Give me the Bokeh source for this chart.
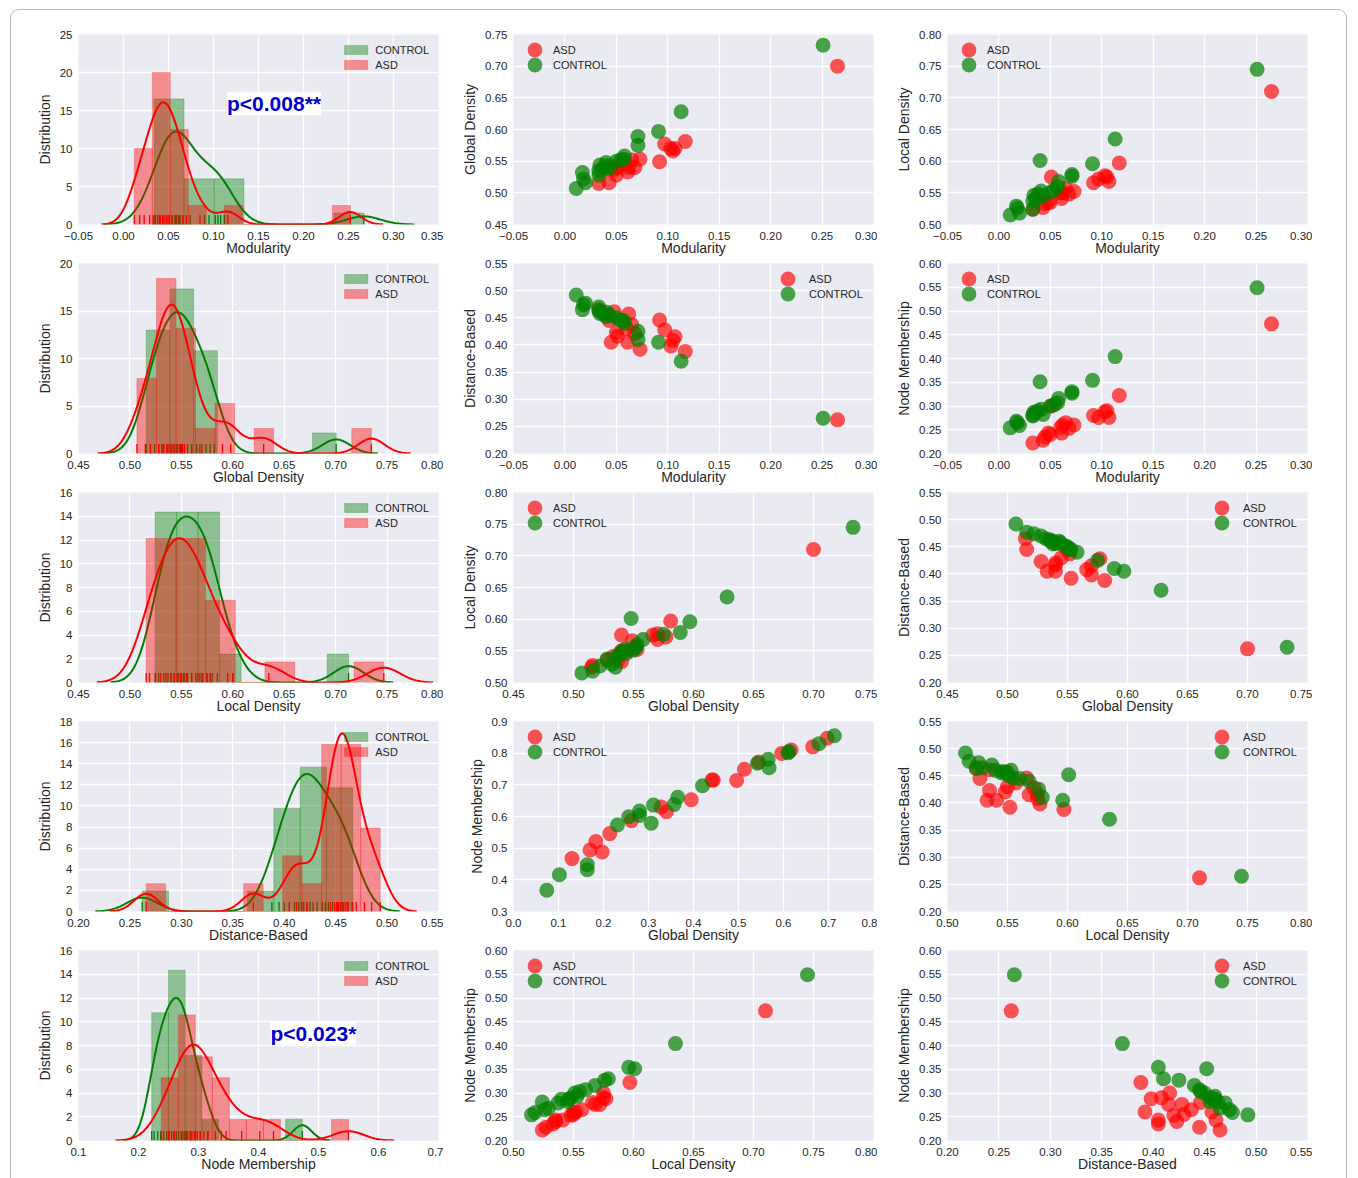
import numpy as np
from bokeh.plotting import figure
from bokeh.layouts import column, row
from bokeh.models import FixedTicker, Legend, LegendItem, Label, Div
from bokeh.embed import file_html
from bokeh.resources import INLINE

FONT = "Liberation Sans"
TXT = "#262626"
RED = "#FF0000"
GREEN = "#008000"
BG = "#EAEAF2"

# ---------------- distribution data (values shown by the rug ticks) ----------------
mod_ctl = [0.034, 0.040, 0.044, 0.048, 0.051, 0.054, 0.057, 0.059, 0.061, 0.063, 0.066,
           0.070, 0.074, 0.090, 0.095, 0.102, 0.105, 0.108, 0.112, 0.267]
mod_asd = [0.012, 0.018, 0.023, 0.029, 0.033, 0.0355, 0.038, 0.041, 0.0435, 0.046, 0.048,
           0.0505, 0.054, 0.058, 0.062, 0.066, 0.070, 0.085, 0.116, 0.252]
gd_ctl = [0.5158, 0.520, 0.524, 0.528, 0.532, 0.536, 0.540, 0.542, 0.545, 0.548, 0.550,
          0.553, 0.556, 0.560, 0.565, 0.570, 0.574, 0.578, 0.582, 0.7005]
gd_asd = [0.5068, 0.515, 0.520, 0.528, 0.531, 0.533, 0.536, 0.538, 0.540, 0.543, 0.546,
          0.549, 0.551, 0.553, 0.560, 0.568, 0.590, 0.598, 0.630, 0.7347]
ld_ctl = [0.5245, 0.528, 0.533, 0.537, 0.540, 0.543, 0.547, 0.550, 0.553, 0.556, 0.560,
          0.564, 0.568, 0.571, 0.575, 0.578, 0.580, 0.585, 0.600, 0.7126]
ld_asd = [0.5158, 0.519, 0.525, 0.530, 0.535, 0.540, 0.543, 0.546, 0.549, 0.552, 0.555,
          0.560, 0.566, 0.570, 0.575, 0.578, 0.595, 0.600, 0.635, 0.7468]
db_ctl = [0.2619, 0.388, 0.395, 0.400, 0.405, 0.410, 0.414, 0.417, 0.419, 0.422, 0.425,
          0.428, 0.432, 0.437, 0.443, 0.447, 0.452, 0.457, 0.462, 0.4667]
db_asd = [0.2658, 0.370, 0.405, 0.412, 0.422, 0.440, 0.445, 0.449, 0.451, 0.453, 0.455,
          0.456, 0.458, 0.460, 0.462, 0.466, 0.470, 0.478, 0.485, 0.4933]
nm_ctl = [0.222, 0.226, 0.232, 0.237, 0.242, 0.247, 0.251, 0.255, 0.259, 0.263, 0.267,
          0.271, 0.274, 0.277, 0.280, 0.287, 0.295, 0.303, 0.315, 0.473]
nm_asd = [0.238, 0.250, 0.260, 0.272, 0.278, 0.282, 0.286, 0.289, 0.293, 0.298, 0.303,
          0.309, 0.316, 0.328, 0.338, 0.346, 0.372, 0.402, 0.425, 0.550]
# number of histogram bins per group (CONTROL, ASD)
bins_mod = (7, 12)
bins_gd = (8, 12)
bins_ld = (9, 8)
bins_db = (8, 12)
bins_nm = (9, 11)

# ---------------- per-subject scatter data ----------------
ctl_mod = [0.011, 0.017, 0.018, 0.020, 0.033, 0.033, 0.034, 0.036, 0.038, 0.040, 0.041,
           0.043, 0.050, 0.054, 0.057, 0.058, 0.071, 0.071, 0.091, 0.113, 0.251]
ctl_gd = [0.507, 0.532, 0.522, 0.516, 0.528, 0.535, 0.544, 0.536, 0.540, 0.548, 0.543,
          0.538, 0.550, 0.552, 0.553, 0.558, 0.575, 0.589, 0.597, 0.628, 0.733]
ctl_ld = [0.515, 0.529, 0.526, 0.518, 0.537, 0.524, 0.546, 0.540, 0.548, 0.601, 0.553,
          0.545, 0.551, 0.555, 0.560, 0.568, 0.576, 0.579, 0.596, 0.635, 0.745]
ctl_db = [0.492, 0.465, 0.474, 0.477, 0.470, 0.463, 0.458, 0.460, 0.456, 0.452, 0.460,
          0.455, 0.450, 0.446, 0.445, 0.440, 0.425, 0.410, 0.405, 0.370, 0.265]
ctl_nm = [0.254, 0.268, 0.265, 0.259, 0.279, 0.281, 0.287, 0.287, 0.290, 0.351, 0.293,
          0.282, 0.300, 0.303, 0.307, 0.316, 0.327, 0.330, 0.354, 0.404, 0.549]

asd_mod = [0.033, 0.043, 0.045, 0.048, 0.050, 0.051, 0.060, 0.061, 0.062, 0.065, 0.068,
           0.073, 0.092, 0.097, 0.103, 0.105, 0.107, 0.117, 0.265]
asd_gd = [0.515, 0.516, 0.540, 0.537, 0.528, 0.540, 0.545, 0.533, 0.540, 0.552, 0.540,
          0.553, 0.549, 0.577, 0.570, 0.566, 0.570, 0.581, 0.700]
asd_ld = [0.524, 0.527, 0.533, 0.535, 0.535, 0.575, 0.550, 0.541, 0.550, 0.557, 0.548,
          0.552, 0.566, 0.572, 0.577, 0.575, 0.568, 0.597, 0.710]
asd_db = [0.465, 0.445, 0.405, 0.461, 0.423, 0.416, 0.430, 0.405, 0.457, 0.437, 0.420,
          0.392, 0.446, 0.428, 0.398, 0.408, 0.415, 0.388, 0.262]
asd_nm = [0.222, 0.228, 0.235, 0.243, 0.240, 0.300, 0.255, 0.243, 0.260, 0.265, 0.253,
          0.260, 0.280, 0.276, 0.288, 0.290, 0.276, 0.322, 0.473]

# second global-density / node-membership panel
gd2_asd = [0.130, 0.170, 0.183, 0.197, 0.214, 0.262, 0.328, 0.340, 0.395, 0.441, 0.444,
           0.496, 0.513, 0.545, 0.596, 0.617, 0.665, 0.697]
nm2_asd = [0.467, 0.494, 0.521, 0.488, 0.546, 0.587, 0.630, 0.615, 0.653, 0.715, 0.715,
           0.714, 0.749, 0.772, 0.799, 0.810, 0.820, 0.847]
gd2_ctl = [0.074, 0.102, 0.164, 0.164, 0.231, 0.256, 0.280, 0.280, 0.306, 0.311, 0.357,
           0.365, 0.420, 0.542, 0.566, 0.568, 0.610, 0.612, 0.679, 0.713]
nm2_ctl = [0.367, 0.416, 0.448, 0.432, 0.573, 0.599, 0.617, 0.603, 0.579, 0.636, 0.638,
           0.661, 0.697, 0.768, 0.781, 0.754, 0.801, 0.805, 0.830, 0.855]

# ---------------- ticks ----------------
t_mod_h = [-0.05, 0.0, 0.05, 0.10, 0.15, 0.20, 0.25, 0.30, 0.35]
l_mod_h = ["\u22120.05", "0.00", "0.05", "0.10", "0.15", "0.20", "0.25", "0.30", "0.35"]
t_mod = [-0.05, 0.0, 0.05, 0.10, 0.15, 0.20, 0.25, 0.30]
l_mod = ["\u22120.05", "0.00", "0.05", "0.10", "0.15", "0.20", "0.25", "0.30"]
t_45_80 = [0.45, 0.50, 0.55, 0.60, 0.65, 0.70, 0.75, 0.80]
l_45_80 = ["0.45", "0.50", "0.55", "0.60", "0.65", "0.70", "0.75", "0.80"]
t_45_75 = [0.45, 0.50, 0.55, 0.60, 0.65, 0.70, 0.75]
l_45_75 = ["0.45", "0.50", "0.55", "0.60", "0.65", "0.70", "0.75"]
t_50_80 = [0.50, 0.55, 0.60, 0.65, 0.70, 0.75, 0.80]
l_50_80 = ["0.50", "0.55", "0.60", "0.65", "0.70", "0.75", "0.80"]
t_20_55 = [0.20, 0.25, 0.30, 0.35, 0.40, 0.45, 0.50, 0.55]
l_20_55 = ["0.20", "0.25", "0.30", "0.35", "0.40", "0.45", "0.50", "0.55"]
t_20_60 = [0.20, 0.25, 0.30, 0.35, 0.40, 0.45, 0.50, 0.55, 0.60]
l_20_60 = ["0.20", "0.25", "0.30", "0.35", "0.40", "0.45", "0.50", "0.55", "0.60"]
t_0_8 = [0.0, 0.1, 0.2, 0.3, 0.4, 0.5, 0.6, 0.7, 0.8]
l_0_8 = ["0.0", "0.1", "0.2", "0.3", "0.4", "0.5", "0.6", "0.7", "0.8"]
t_3_9 = [0.3, 0.4, 0.5, 0.6, 0.7, 0.8, 0.9]
l_3_9 = ["0.3", "0.4", "0.5", "0.6", "0.7", "0.8", "0.9"]
t_1_7 = [0.1, 0.2, 0.3, 0.4, 0.5, 0.6, 0.7]
l_1_7 = ["0.1", "0.2", "0.3", "0.4", "0.5", "0.6", "0.7"]
t_0_25 = [0, 5, 10, 15, 20, 25]
t_0_20 = [0, 5, 10, 15, 20]
t_0_16 = [0, 2, 4, 6, 8, 10, 12, 14, 16]
t_0_18 = [0, 2, 4, 6, 8, 10, 12, 14, 16, 18]

FW, FH = 360, 190


def make_fig(xr, yr, xt, xl, yt, yl, xlab, ylab, top, left, right):
    p = figure(x_range=xr, y_range=yr, frame_width=FW, frame_height=FH,
               output_backend="svg", toolbar_location=None,
               min_border_left=left, min_border_right=right,
               min_border_top=top, min_border_bottom=34,
               background_fill_color=BG, border_fill_color="white",
               outline_line_color=None)
    xtk = FixedTicker(ticks=xt)
    ytk = FixedTicker(ticks=yt)
    p.xaxis.ticker = xtk
    p.yaxis.ticker = ytk
    p.xgrid.ticker = xtk
    p.ygrid.ticker = ytk
    if xl is not None:
        p.xaxis.major_label_overrides = dict(zip(xt, xl))
    if yl is not None:
        p.yaxis.major_label_overrides = dict(zip(yt, yl))
    p.grid.grid_line_color = "white"
    p.grid.grid_line_width = 1.3
    p.axis.axis_line_color = None
    p.axis.major_tick_line_color = None
    p.axis.minor_tick_line_color = None
    p.axis.major_tick_out = 0
    p.axis.major_tick_in = 0
    p.axis.minor_tick_out = 0
    p.axis.minor_tick_in = 0
    p.axis.major_label_text_font = FONT
    p.axis.major_label_text_font_size = "11.5px"
    p.axis.major_label_text_color = TXT
    p.xaxis.major_label_standoff = 7
    p.yaxis.major_label_standoff = 6
    p.axis.axis_label_text_font = FONT
    p.axis.axis_label_text_font_size = "14px"
    p.axis.axis_label_text_font_style = "normal"
    p.axis.axis_label_text_color = TXT
    p.xaxis.axis_label_standoff = -3
    p.yaxis.axis_label_standoff = 4
    p.xaxis.axis_label = xlab
    p.yaxis.axis_label = ylab
    return p


def kde(vals):
    v = np.asarray(vals, dtype=float)
    n = len(v)
    sd = v.std(ddof=1)
    q75, q25 = np.percentile(v, [75, 25])
    a = min(sd, (q75 - q25) / 1.349)
    bw = 1.059 * a * n ** (-0.2)
    xs = np.linspace(v.min() - 3 * bw, v.max() + 3 * bw, 200)
    ys = np.exp(-0.5 * ((xs[:, None] - v[None, :]) / bw) ** 2).sum(axis=1) / (n * bw * np.sqrt(2 * np.pi))
    return xs, ys


def dist_panel(ctl, asd, nb, xr, yr, xt, xl, yt, xlab, top, left, right,
               ptext=None, px=None, py=None):
    p = make_fig(xr, yr, xt, xl, yt, None, xlab, "Distribution", top, left, right)
    rug_h = 0.05 * yr[1]
    items = []
    for vals, nbin, col, name in ((ctl, nb[0], GREEN, "CONTROL"), (asd, nb[1], RED, "ASD")):
        h, e = np.histogram(vals, bins=nbin, density=True)
        r = p.quad(left=e[:-1], right=e[1:], top=h, bottom=0, fill_color=col, fill_alpha=0.4,
                   line_color=col, line_alpha=0.25, line_width=1)
        xs, ys = kde(vals)
        p.line(xs, ys, line_color=col, line_width=2)
        p.segment(x0=vals, y0=0, x1=vals, y1=rug_h, line_color=col, line_width=1.3)
        items.append(LegendItem(label=name, renderers=[r]))
    lg = Legend(items=items, location="top_right", margin=9, padding=0, spacing=2,
                glyph_width=29, glyph_height=11, label_height=13, label_standoff=5,
                label_text_font=FONT, label_text_font_size="11px", label_text_color=TXT,
                background_fill_alpha=0, border_line_color=None)
    p.add_layout(lg)
    if ptext:
        p.add_layout(Label(x=px, y=py, text=ptext, text_font=FONT, text_font_style="bold",
                           text_font_size="21px", text_color="#0000CC", text_baseline="middle",
                           background_fill_color="white"))
    return p


def scat_panel(xa, ya, xc, yc, xr, yr, xt, xl, yt, yl, xlab, ylab, loc, top, left, right):
    p = make_fig(xr, yr, xt, xl, yt, yl, xlab, ylab, top, left, right)
    ra = p.scatter(xa, ya, size=15, fill_color=RED, line_color=None, fill_alpha=0.66)
    rc = p.scatter(xc, yc, size=15, fill_color=GREEN, line_color=None, fill_alpha=0.7)
    if loc == "left":
        vx, stand = 3, 0
    else:
        vx, stand = 256, 3
    for lab, rr, vy in (("ASD", ra, 156), ("CONTROL", rc, 141)):
        lg = Legend(items=[LegendItem(label=lab, renderers=[rr])],
                    location=(vx, vy), padding=0, margin=0,
                    glyph_width=37, glyph_height=37, label_standoff=stand,
                    label_text_font=FONT, label_text_font_size="11px", label_text_color=TXT,
                    background_fill_alpha=0, border_line_color=None)
        p.add_layout(lg)
    return p


T1, T = 34, 5
L1, L = 78, 70
R1, R2, R3 = 5, 4, 5

# row 1
p11 = dist_panel(mod_ctl, mod_asd, bins_mod, (-0.05, 0.35), (0, 25), t_mod_h, l_mod_h, t_0_25,
                 "Modularity", T1, L1, R1, "p<0.008**", 0.115, 15.9)
p12 = scat_panel(asd_mod, asd_gd, ctl_mod, ctl_gd, (-0.05, 0.30), (0.45, 0.75), t_mod, l_mod,
                 t_45_75, l_45_75, "Modularity", "Global Density", "left", T1, L, R2)
p13 = scat_panel(asd_mod, asd_ld, ctl_mod, ctl_ld, (-0.05, 0.30), (0.50, 0.80), t_mod, l_mod,
                 t_50_80, l_50_80, "Modularity", "Local Density", "left", T1, L, R3)
# row 2
p21 = dist_panel(gd_ctl, gd_asd, bins_gd, (0.45, 0.80), (0, 20), t_45_80, l_45_80, t_0_20,
                 "Global Density", T, L1, R1)
p22 = scat_panel(asd_mod, asd_db, ctl_mod, ctl_db, (-0.05, 0.30), (0.20, 0.55), t_mod, l_mod,
                 t_20_55, l_20_55, "Modularity", "Distance-Based", "right", T, L, R2)
p23 = scat_panel(asd_mod, asd_nm, ctl_mod, ctl_nm, (-0.05, 0.30), (0.20, 0.60), t_mod, l_mod,
                 t_20_60, l_20_60, "Modularity", "Node Membership", "left", T, L, R3)
# row 3
p31 = dist_panel(ld_ctl, ld_asd, bins_ld, (0.45, 0.80), (0, 16), t_45_80, l_45_80, t_0_16,
                 "Local Density", T, L1, R1)
p32 = scat_panel(asd_gd, asd_ld, ctl_gd, ctl_ld, (0.45, 0.75), (0.50, 0.80), t_45_75, l_45_75,
                 t_50_80, l_50_80, "Global Density", "Local Density", "left", T, L, R2)
p33 = scat_panel(asd_gd, asd_db, ctl_gd, ctl_db, (0.45, 0.75), (0.20, 0.55), t_45_75, l_45_75,
                 t_20_55, l_20_55, "Global Density", "Distance-Based", "right", T, L, R3)
# row 4
p41 = dist_panel(db_ctl, db_asd, bins_db, (0.20, 0.55), (0, 18), t_20_55, l_20_55, t_0_18,
                 "Distance-Based", T, L1, R1)
p42 = scat_panel(gd2_asd, nm2_asd, gd2_ctl, nm2_ctl, (0.0, 0.8), (0.3, 0.9), t_0_8, l_0_8,
                 t_3_9, l_3_9, "Global Density", "Node Membership", "left", T, L, R2)
p43 = scat_panel(asd_ld, asd_db, ctl_ld, ctl_db, (0.50, 0.80), (0.20, 0.55), t_50_80, l_50_80,
                 t_20_55, l_20_55, "Local Density", "Distance-Based", "right", T, L, R3)
# row 5
p51 = dist_panel(nm_ctl, nm_asd, bins_nm, (0.1, 0.7), (0, 16), t_1_7, l_1_7, t_0_16,
                 "Node Membership", T, L1, R1, "p<0.023*", 0.42, 9.05)
p52 = scat_panel(asd_ld, asd_nm, ctl_ld, ctl_nm, (0.50, 0.80), (0.20, 0.60), t_50_80, l_50_80,
                 t_20_60, l_20_60, "Local Density", "Node Membership", "left", T, L, R2)
p53 = scat_panel(asd_db, asd_nm, ctl_db, ctl_nm, (0.20, 0.55), (0.20, 0.60), t_20_55, l_20_55,
                 t_20_60, l_20_60, "Distance-Based", "Node Membership", "right", T, L, R3)

frame_div = Div(text='<div style="position:fixed;left:10px;top:9px;width:1337px;height:1300px;'
                     'border:1px solid #b8b8b8;border-radius:9px;pointer-events:none;"></div>',
                width=1, height=1)

layout = column(row(p11, p12, p13), row(p21, p22, p23), row(p31, p32, p33),
                row(p41, p42, p43), row(p51, p52, p53), frame_div)

open("out.html", "w").write(file_html(layout, INLINE))
